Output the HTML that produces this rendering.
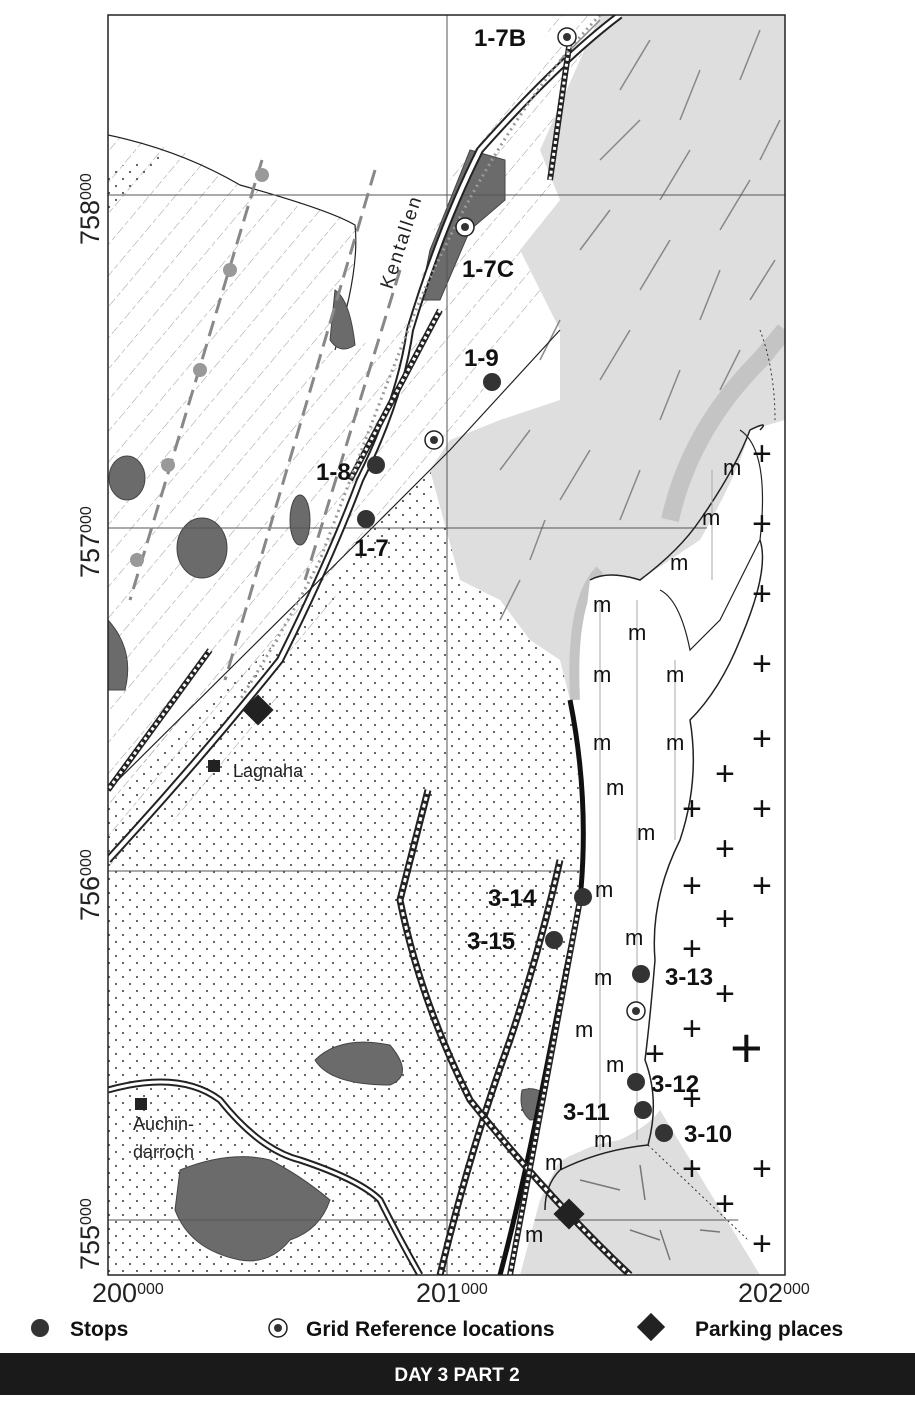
<!DOCTYPE html>
<html><head><meta charset="utf-8"><style>
html,body{margin:0;padding:0;background:#fff;}
body{width:915px;height:1400px;overflow:hidden;font-family:"Liberation Sans",sans-serif;}
</style></head><body>
<svg width="915" height="1400" viewBox="0 0 915 1400" xmlns="http://www.w3.org/2000/svg" font-family="Liberation Sans, sans-serif">
<defs>
<pattern id="dots" width="14" height="14" patternUnits="userSpaceOnUse"><circle cx="4" cy="4" r="1.1" fill="#555"/><circle cx="11" cy="11" r="1.1" fill="#555"/></pattern>
<pattern id="hatch" width="20" height="20" patternUnits="userSpaceOnUse" patternTransform="rotate(-50)"><line x1="0" y1="0" x2="20" y2="0" stroke="#999" stroke-width="1" stroke-dasharray="5 3"/></pattern>
<clipPath id="frame"><rect x="108" y="15" width="677" height="1260"/></clipPath>
</defs>
<rect width="915" height="1400" fill="#fff"/>
<g clip-path="url(#frame)">
<!-- hatched west -->
<polygon points="108,135 180,150 240,185 355,220 355,280 330,350 380,340 410,310 430,250 440,200 470,140 560,15 620,15 560,120 540,300 470,420 380,520 108,800" fill="url(#hatch)"/>
<path d="M108,135 Q180,150 240,185 Q330,210 355,225 Q360,270 335,350" fill="none" stroke="#222" stroke-width="1.2"/>
<polygon points="108,170 175,150 108,215" fill="url(#dots)"/>
<!-- dotted large -->
<polygon points="108,800 300,620 380,520 450,450 540,420 560,460 575,520 570,700 580,800 585,900 560,1000 530,1100 500,1275 108,1275" fill="url(#dots)"/>
<polygon points="108,880 240,760 380,520 108,790" fill="url(#hatch)"/>
<!-- light gray -->
<polygon points="540,150 600,15 785,15 785,420 760,430 740,470 700,540 640,580 590,580 570,700 560,660 530,640 500,600 460,580 430,470 450,440 500,420 560,400 560,330 520,250 560,200" fill="#dedede"/>
<path d="M670,520 Q690,430 760,360 L785,330" fill="none" stroke="#c4c4c4" stroke-width="18"/>
<path d="M600,570 Q570,600 575,700" fill="none" stroke="#c4c4c4" stroke-width="10"/>
<g stroke="#888" stroke-width="1.5">
<line x1="560" y1="60" x2="600" y2="20"/><line x1="620" y1="90" x2="650" y2="40"/><line x1="680" y1="120" x2="700" y2="70"/><line x1="740" y1="80" x2="760" y2="30"/>
<line x1="600" y1="160" x2="640" y2="120"/><line x1="660" y1="200" x2="690" y2="150"/><line x1="720" y1="230" x2="750" y2="180"/><line x1="760" y1="160" x2="780" y2="120"/>
<line x1="580" y1="250" x2="610" y2="210"/><line x1="640" y1="290" x2="670" y2="240"/><line x1="700" y1="320" x2="720" y2="270"/><line x1="750" y1="300" x2="775" y2="260"/>
<line x1="540" y1="360" x2="560" y2="320"/><line x1="600" y1="380" x2="630" y2="330"/><line x1="660" y1="420" x2="680" y2="370"/><line x1="720" y1="390" x2="740" y2="350"/>
<line x1="500" y1="470" x2="530" y2="430"/><line x1="560" y1="500" x2="590" y2="450"/><line x1="620" y1="520" x2="640" y2="470"/><line x1="530" y1="560" x2="545" y2="520"/><line x1="500" y1="620" x2="520" y2="580"/>
</g>
<!-- bottom right gray patch -->
<path d="M545,1180 Q560,1150 620,1140 Q650,1125 660,1110 L760,1275 L520,1275 Z" fill="#dedede"/>
<g stroke="#777" stroke-width="1.5"><line x1="580" y1="1180" x2="620" y2="1190"/><line x1="640" y1="1165" x2="645" y2="1200"/><line x1="630" y1="1230" x2="660" y2="1240"/><line x1="660" y1="1230" x2="670" y2="1260"/><line x1="700" y1="1230" x2="720" y2="1232"/></g>
<path d="M648,1145 L785,1275" stroke="#333" stroke-width="1" stroke-dasharray="2 3" fill="none"/>
<path d="M760,330 Q775,370 775,420" stroke="#333" stroke-width="1" stroke-dasharray="2 3" fill="none"/>
<!-- dark gray blobs -->
<g fill="#6b6b6b" stroke="#444">
<path d="M470,150 L505,160 L505,200 L470,230 L440,300 L420,300 L430,250 Z"/>
<path d="M335,290 Q350,300 355,345 Q340,355 330,340 Z"/>
<ellipse cx="127" cy="478" rx="18" ry="22"/><ellipse cx="202" cy="548" rx="25" ry="30"/><ellipse cx="300" cy="520" rx="10" ry="25"/><path d="M108,620 Q135,650 125,690 L108,690 Z"/>
<path d="M315,1060 Q340,1035 390,1045 Q415,1075 390,1085 Q330,1085 315,1060 Z"/>
<path d="M180,1170 Q230,1150 270,1160 Q300,1175 330,1200 Q320,1230 290,1240 Q270,1265 240,1260 Q190,1250 175,1210 Z"/>
<path d="M522,1090 Q540,1085 548,1100 Q545,1120 530,1120 Q518,1110 522,1090 Z"/>
</g>
<!-- grid -->
<g stroke="#555" stroke-width="1"><line x1="108" y1="195" x2="785" y2="195"/><line x1="108" y1="528" x2="785" y2="528"/><line x1="108" y1="871" x2="785" y2="871"/><line x1="108" y1="1220" x2="785" y2="1220"/><line x1="447" y1="15" x2="447" y2="1275"/></g>
<!-- dashed grey lines -->
<g stroke="#888" stroke-width="3" stroke-dasharray="16 8" fill="none"><line x1="262" y1="160" x2="130" y2="600"/><line x1="375" y1="170" x2="225" y2="680"/><line x1="400" y1="270" x2="305" y2="580"/></g>
<g fill="#999"><circle cx="262" cy="175" r="7"/><circle cx="230" cy="270" r="7"/><circle cx="200" cy="370" r="7"/><circle cx="168" cy="465" r="7"/><circle cx="137" cy="560" r="7"/></g>
<!-- white region m + -->
<path d="M590,580 Q610,570 640,580 L700,540 Q740,470 750,430 L785,420 L785,1275 L760,1275 Q740,1200 660,1110 Q610,1140 560,1160 L540,1200 L520,1275 L500,1275 Q540,1100 560,1000 Q585,900 580,800 Q575,700 590,580 Z" fill="#fff"/>
<path d="M590,580 Q608,570 640,580 Q680,550 700,520 Q735,470 750,430 Q770,420 760,430" fill="none" stroke="#222" stroke-width="1.5"/>
<path d="M760,540 Q770,570 740,640 Q720,690 690,720 Q700,780 680,840 Q650,900 655,960 Q650,1020 645,1060 Q660,1100 648,1145 Q600,1150 560,1170 Q545,1185 545,1210" fill="none" stroke="#222" stroke-width="1.5"/>
<path d="M740,430 Q770,450 760,540 L720,620 L690,650 Q680,600 660,590" fill="none" stroke="#222" stroke-width="1.2"/>
<g stroke="#aaa" stroke-width="1"><line x1="600" y1="600" x2="600" y2="1150"/><line x1="637" y1="600" x2="637" y2="1140"/><line x1="675" y1="660" x2="675" y2="840"/><line x1="712" y1="470" x2="712" y2="580"/></g>
<g font-size="22" fill="#111">
<text x="723" y="475">m</text><text x="702" y="525">m</text><text x="670" y="570">m</text><text x="593" y="612">m</text><text x="628" y="640">m</text><text x="593" y="682">m</text><text x="666" y="682">m</text><text x="593" y="750">m</text><text x="666" y="750">m</text><text x="606" y="795">m</text><text x="637" y="840">m</text><text x="595" y="897">m</text><text x="625" y="945">m</text><text x="594" y="985">m</text><text x="575" y="1037">m</text><text x="606" y="1072">m</text><text x="594" y="1147">m</text><text x="545" y="1170">m</text><text x="525" y="1242">m</text>
</g>
<g font-size="34" fill="#111">
<text x="752" y="465">+</text><text x="752" y="535">+</text><text x="752" y="605">+</text><text x="752" y="675">+</text><text x="752" y="750">+</text><text x="715" y="785">+</text><text x="682" y="820">+</text><text x="752" y="820">+</text><text x="715" y="860">+</text><text x="682" y="897">+</text><text x="752" y="897">+</text><text x="715" y="930">+</text><text x="682" y="960">+</text><text x="715" y="1005">+</text><text x="682" y="1040">+</text><text x="645" y="1065">+</text><text x="682" y="1110">+</text><text x="682" y="1180">+</text><text x="752" y="1180">+</text><text x="715" y="1215">+</text><text x="752" y="1255">+</text>
</g>
<text x="730" y="1067" font-size="56" fill="#111">+</text>
<!-- roads & lines -->
<g fill="none">
<path d="M108,860 Q200,760 280,660 Q330,560 360,480 Q400,400 410,330 Q440,230 480,150 Q560,60 620,15" stroke="#222" stroke-width="8"/>
<path d="M108,860 Q200,760 280,660 Q330,560 360,480 Q400,400 410,330 Q440,230 480,150 Q560,60 620,15" stroke="#fff" stroke-width="4"/>
<path d="M108,790 L380,520 L450,450 L560,330" stroke="#222" stroke-width="1.2"/>
<path d="M570,700 Q590,800 580,900 Q560,1000 540,1100 Q520,1200 500,1275" stroke="#111" stroke-width="5"/>
<path d="M560,860 Q540,950 510,1040 Q470,1150 440,1275" stroke="#222" stroke-width="7"/>
<path d="M560,860 Q540,950 510,1040 Q470,1150 440,1275" stroke="#fff" stroke-width="3" stroke-dasharray="4 3"/>
<path d="M428,790 Q410,860 400,900 Q420,1000 470,1100 Q550,1200 630,1275" stroke="#222" stroke-width="7"/>
<path d="M428,790 Q410,860 400,900 Q420,1000 470,1100 Q550,1200 630,1275" stroke="#fff" stroke-width="3" stroke-dasharray="4 3"/>
<path d="M108,1090 Q180,1070 220,1100 Q260,1150 300,1160 Q360,1180 380,1200 Q400,1240 420,1275" stroke="#222" stroke-width="7"/>
<path d="M108,1090 Q180,1070 220,1100 Q260,1150 300,1160 Q360,1180 380,1200 Q400,1240 420,1275" stroke="#fff" stroke-width="3"/>
<path d="M580,900 L510,1275" stroke="#222" stroke-width="6"/><path d="M580,900 L510,1275" stroke="#fff" stroke-width="3" stroke-dasharray="3 3"/>
<path d="M570,40 L550,180" stroke="#222" stroke-width="6"/><path d="M570,40 L550,180" stroke="#fff" stroke-width="3" stroke-dasharray="3 3"/>
<path d="M440,310 L350,480" stroke="#222" stroke-width="6"/><path d="M440,310 L350,480" stroke="#fff" stroke-width="3" stroke-dasharray="3 3"/>
<path d="M210,650 L108,790" stroke="#222" stroke-width="6"/><path d="M210,650 L108,790" stroke="#fff" stroke-width="3" stroke-dasharray="3 3"/>
<path d="M600,15 Q500,120 420,300 Q380,400 320,560 Q290,620 240,700" stroke="#999" stroke-width="3" stroke-dasharray="2 4"/>
</g>
</g>
<rect x="108" y="15" width="677" height="1260" fill="none" stroke="#222" stroke-width="1.5"/>
<!-- stops -->
<g fill="#333">
<circle cx="492" cy="382" r="9"/><circle cx="376" cy="465" r="9"/><circle cx="366" cy="519" r="9"/><circle cx="583" cy="897" r="9"/><circle cx="554" cy="940" r="9"/><circle cx="641" cy="974" r="9"/><circle cx="636" cy="1082" r="9"/><circle cx="643" cy="1110" r="9"/><circle cx="664" cy="1133" r="9"/>
</g>
<g fill="#fff" stroke="#222" stroke-width="1.5"><circle cx="567" cy="37" r="9"/><circle cx="465" cy="227" r="9"/><circle cx="434" cy="440" r="9"/><circle cx="636" cy="1011" r="9"/></g>
<g fill="#333"><circle cx="567" cy="37" r="4"/><circle cx="465" cy="227" r="4"/><circle cx="434" cy="440" r="4"/><circle cx="636" cy="1011" r="4"/></g>
<rect x="247" y="699" width="22" height="22" fill="#222" transform="rotate(45 258 710)"/>
<rect x="558" y="1203" width="22" height="22" fill="#222" transform="rotate(45 569 1214)"/>
<rect x="208" y="760" width="12" height="12" fill="#222"/><rect x="135" y="1098" width="12" height="12" fill="#222"/>
<g font-size="24" font-weight="bold" fill="#111">
<text x="474" y="46">1-7B</text><text x="462" y="277">1-7C</text><text x="464" y="366">1-9</text><text x="316" y="480">1-8</text><text x="354" y="556">1-7</text>
<text x="488" y="906">3-14</text><text x="467" y="949">3-15</text><text x="665" y="985">3-13</text><text x="651" y="1092">3-12</text><text x="563" y="1120">3-11</text><text x="684" y="1142">3-10</text>
</g>
<text x="233" y="777" font-size="18" fill="#222">Lagnaha</text>
<text x="133" y="1130" font-size="18" fill="#222">Auchin-</text><text x="133" y="1158" font-size="18" fill="#222">darroch</text>
<text x="0" y="0" font-size="19" fill="#222" transform="translate(392,290) rotate(-72)" letter-spacing="2">Kentallen</text>
<!-- axis -->
<g font-size="27" fill="#222">
<text x="92" y="1302">200<tspan font-size="16" dy="-8">000</tspan></text>
<text x="416" y="1302">201<tspan font-size="16" dy="-8">000</tspan></text>
<text x="738" y="1302">202<tspan font-size="16" dy="-8">000</tspan></text>
<text transform="translate(99,245) rotate(-90)">758<tspan font-size="16" dy="-8">000</tspan></text>
<text transform="translate(99,578) rotate(-90)">757<tspan font-size="16" dy="-8">000</tspan></text>
<text transform="translate(99,921) rotate(-90)">756<tspan font-size="16" dy="-8">000</tspan></text>
<text transform="translate(99,1270) rotate(-90)">755<tspan font-size="16" dy="-8">000</tspan></text>
</g>
<!-- legend -->
<circle cx="40" cy="1328" r="9" fill="#333"/>
<circle cx="278" cy="1328" r="9" fill="#fff" stroke="#222" stroke-width="1.5"/><circle cx="278" cy="1328" r="4" fill="#333"/>
<rect x="641" y="1317" width="20" height="20" fill="#222" transform="rotate(45 651 1327)"/>
<g font-size="21" font-weight="bold" fill="#111"><text x="70" y="1336">Stops</text><text x="306" y="1336">Grid Reference locations</text><text x="695" y="1336">Parking places</text></g>
<rect x="0" y="1353" width="915" height="42" fill="#1a1a1a"/>
<text x="457" y="1381" font-size="19" font-weight="bold" fill="#fff" text-anchor="middle">DAY 3 PART 2</text>
</svg>
</body></html>
